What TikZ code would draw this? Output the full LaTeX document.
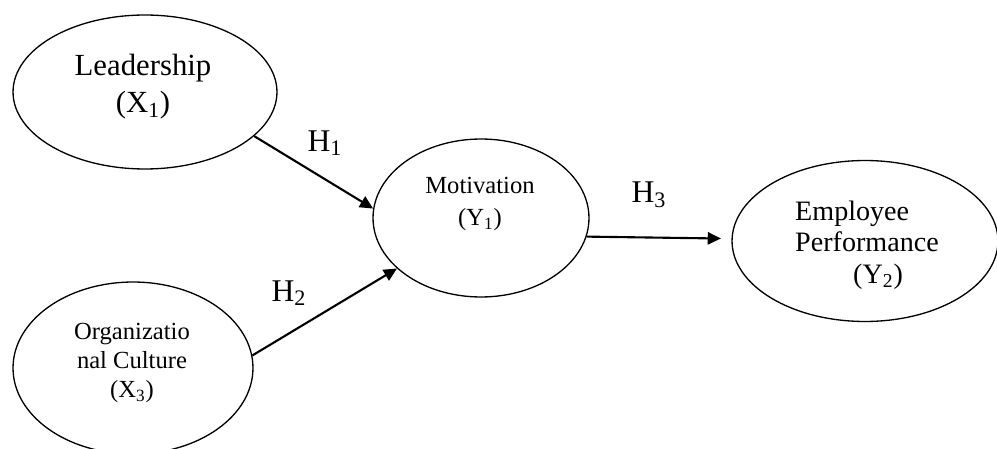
\documentclass[tikz,border=0pt]{standalone}
\usepackage{fontspec}
\setmainfont{Liberation Serif}
\usetikzlibrary{shapes.geometric,arrows.meta}

\begin{document}
\begin{tikzpicture}
  [x=0.02cm,y=-0.02cm,
   latent/.style={ellipse,draw,line width=0.75pt,inner sep=0pt},
   vartext/.style={align=center,inner sep=0pt},
   hyp/.style={inner sep=0pt,font=\fontsize{18}{22}\selectfont},
   hpath/.style={line width=1.2pt,-{Triangle[length=7.5pt,width=7pt]}}]
  \useasboundingbox (0,0) rectangle (997,449);

  \node[latent,minimum width=5.28cm,minimum height=3.08cm] (lead) at (145,92) {};
  \node[latent,minimum width=4.8cm,minimum height=3.44cm]  (org)  at (133,368) {};
  \node[latent,minimum width=4.32cm,minimum height=3.16cm] (mot)  at (481,218) {};
  \node[latent,minimum width=5.32cm,minimum height=3.22cm] (emp)  at (865,241) {};

  \node[vartext,font=\fontsize{17.5}{21}\selectfont] (leadtxt) at (143,87)
    {Leadership\\(X\textsubscript{1})};
  \node[vartext,font=\fontsize{14}{16.5}\selectfont] (orgtxt) at (132,363)
    {Organizatio\\nal Culture\\(X\textsubscript{3})};
  \node[vartext,font=\fontsize{14}{18}\selectfont] (mottxt) at (480,204)
    {Motivation\\(Y\textsubscript{1})};
  \node[vartext,align=left,font=\fontsize{16}{18}\selectfont] (emptxt) at (867,245)
    {Employee\\Performance\\\hspace{33pt}(Y\textsubscript{2})};

  \node[hyp] (h1) at (325,143) {H\textsubscript{1}};
  \node[hyp] (h2) at (289,293) {H\textsubscript{2}};
  \node[hyp] (h3) at (649,195) {H\textsubscript{3}};

  \draw[hpath] (lead.-22) -- (mot.175);
  \draw[hpath] (org.6) -- (mot.211);
  \draw[hpath,shorten >=6pt] (mot.-10) -- (emp.179);

\end{tikzpicture}
\end{document}
